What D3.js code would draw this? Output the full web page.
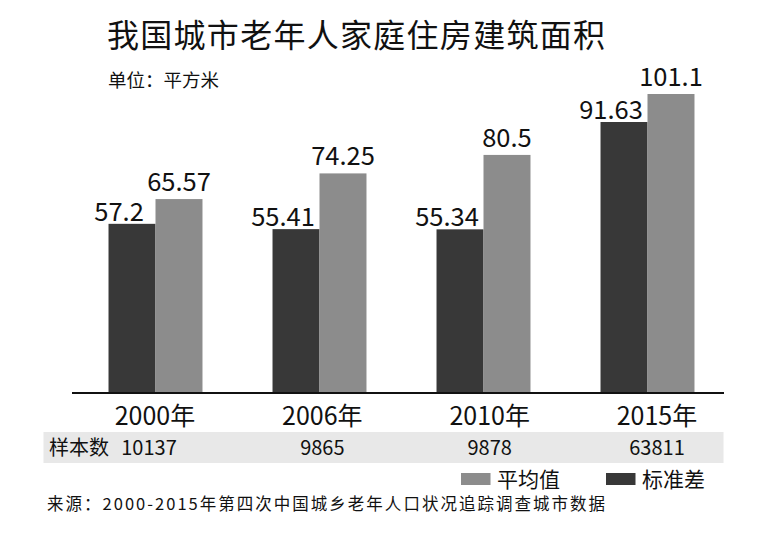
<!DOCTYPE html>
<html>
<head>
<meta charset="utf-8">
<script src="https://cdn.jsdelivr.net/npm/d3@7"></script>
<style>
  html, body { margin: 0; padding: 0; background: #fff; }
  svg { display: block; }
  text { font-family: "Noto Sans CJK SC", "Noto Sans", sans-serif; fill: #111; }
</style>
</head>
<body>
<svg id="chart" width="768" height="534"></svg>
<script>
// ---- data ----
const years = ["2000年", "2006年", "2010年", "2015年"];
const sdValues = [57.2, 55.41, 55.34, 91.63];      // 标准差 (dark)
const meanValues = [65.57, 74.25, 80.5, 101.1];    // 平均值 (light)
const sampleSizes = ["10137", "9865", "9878", "63811"];
const seriesNames = ["标准差", "平均值"];
const legendOrder = ["平均值", "标准差"];
const title = "我国城市老年人家庭住房建筑面积";
const unitText = "单位：平方米";
const sampleLabel = "样本数";
const sourceText = "来源：2000-2015年第四次中国城乡老年人口状况追踪调查城市数据";

// ---- layout ----
const W = 768, H = 534;
const baseY = 393;
const colors = { "标准差": "#383838", "平均值": "#8c8c8c" };

const svg = d3.select("#chart");
svg.append("rect").attr("width", W).attr("height", H).attr("fill", "#fff");

const rows = years.map((y, i) => ({ year: y, "标准差": sdValues[i], "平均值": meanValues[i], n: sampleSizes[i] }));

const x0 = d3.scaleBand().domain(years).range([73.5, 729.5])
  .paddingInner(0.427).paddingOuter(0.2135);
const x1 = d3.scaleBand().domain(seriesNames).range([0, x0.bandwidth()]).padding(0);
const y = d3.scaleLinear().domain([0, 101.1]).range([baseY, 94]);
const labelX = d3.scalePoint().domain(years).range([155, 657]);

// title
svg.append("text").attr("x", 107).attr("y", 47)
  .attr("font-size", 32).attr("font-weight", 400)
  .attr("textLength", 498).attr("lengthAdjust", "spacing").text(title);
svg.append("text").attr("x", 108).attr("y", 87)
  .attr("font-size", 18.5).text(unitText);

// bars
const g = svg.append("g");
const groups = g.selectAll("g.grp").data(rows).join("g")
  .attr("class", "grp")
  .attr("transform", d => `translate(${x0(d.year)},0)`);

groups.selectAll("rect").data(d => seriesNames.map(k => ({ key: k, value: d[k] }))).join("rect")
  .attr("x", d => x1(d.key))
  .attr("width", x1.bandwidth())
  .attr("y", d => y(d.value))
  .attr("height", d => baseY - y(d.value))
  .attr("fill", d => colors[d.key]);

groups.selectAll("text.val").data(d => seriesNames.map(k => ({ key: k, value: d[k] }))).join("text")
  .attr("class", "val")
  .attr("text-anchor", "middle")
  .attr("font-size", 25.5)
  .attr("x", d => x1(d.key) + x1.bandwidth() / 2 + (d.key === "标准差" ? -13 : 0))
  .attr("y", d => y(d.value) - (d.key === "标准差" ? 3 : 8))
  .text(d => String(d.value));

// axis baseline
const axis = d3.axisBottom(x0).tickSize(0).tickFormat("");
const axG = svg.append("g").attr("transform", `translate(0,${baseY})`).call(axis);
axG.select(".domain").attr("stroke", "#111").attr("stroke-width", 2.2).attr("d", "M72,0H724");

// year labels
svg.append("g").selectAll("text").data(years).join("text")
  .attr("x", d => labelX(d)).attr("y", 425)
  .attr("text-anchor", "middle").attr("font-size", 25)
  .text(d => d);

// sample-size row
svg.append("rect").attr("x", 43.5).attr("y", 432).attr("width", 680).attr("height", 31).attr("fill", "#e8e8e8");
svg.append("text").attr("x", 49).attr("y", 455).attr("font-size", 20).text(sampleLabel);
svg.append("g").selectAll("text").data(rows).join("text")
  .attr("x", (d, i) => labelX(d.year) + (i === 0 ? -6 : 0)).attr("y", 455)
  .attr("text-anchor", "middle").attr("font-size", 20)
  .text(d => d.n);

// legend
const legendX = { "平均值": 461, "标准差": 606 };
const lg = svg.append("g").selectAll("g").data(legendOrder).join("g")
  .attr("transform", d => `translate(${legendX[d]},0)`);
lg.append("rect").attr("x", 0).attr("y", 473).attr("width", 29.5).attr("height", 12)
  .attr("fill", d => colors[d]);
lg.append("text").attr("x", 36).attr("y", 487).attr("font-size", 21).text(d => d);

// source
svg.append("text").attr("x", 47).attr("y", 510).attr("font-size", 16.5)
  .attr("textLength", 558).attr("lengthAdjust", "spacing")
  .text(sourceText);
</script>
</body>
</html>
